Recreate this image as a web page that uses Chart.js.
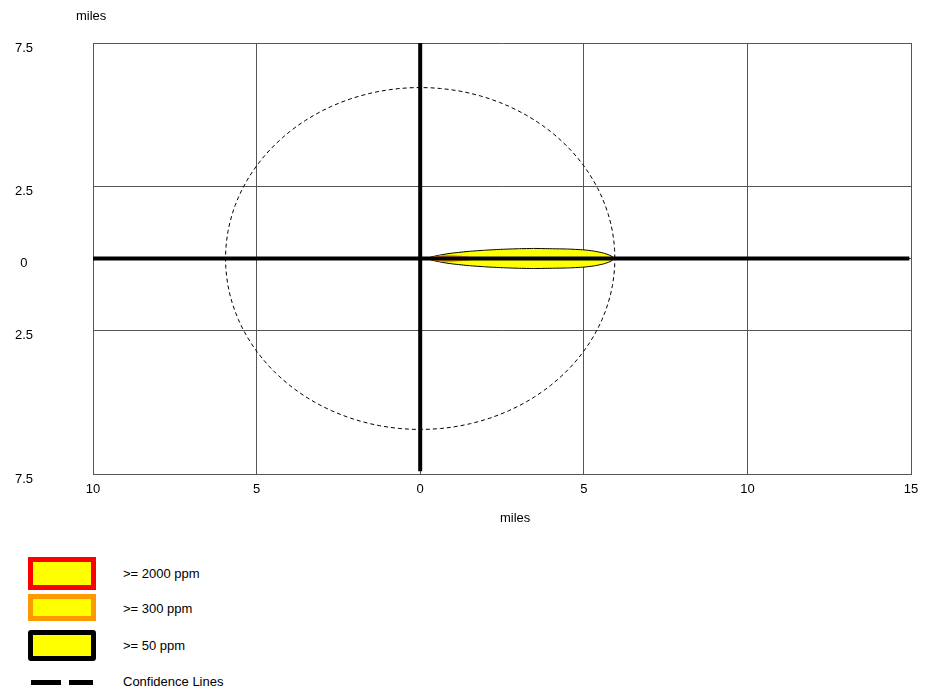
<!DOCTYPE html>
<html>
<head>
<meta charset="utf-8">
<script src="https://cdn.jsdelivr.net/npm/chart.js@4/dist/chart.umd.min.js"></script>
<style>
  html, body { margin: 0; padding: 0; background: #fff; }
  body { width: 925px; height: 693px; position: relative; font-family: "Liberation Sans", Arial, sans-serif; color: #000; overflow: hidden; }
  #c { position: absolute; left: 0; top: 0; }
  .lbl { position: absolute; font-size: 13px; white-space: nowrap; }
  .box { position: absolute; left: 28px; width: 58px; height: 23px; background: #ffff00; border: 5px solid; }
  .dash { position: absolute; top: 680px; height: 5px; background: #000; }
</style>
</head>
<body>
<canvas id="c" width="925" height="540"></canvas>
<div class="lbl" style="left:76px; top:8px;">miles</div>
<div class="lbl" style="left:500px; top:510px;">miles</div>

<div class="box" style="top:557px; border-color:#ff0000;"></div>
<div class="lbl" style="left:123px; top:566px;">&gt;= 2000 ppm</div>
<div class="box" style="top:594px; height:17px; border-color:#ff9900;"></div>
<div class="lbl" style="left:123px; top:601px;">&gt;= 300 ppm</div>
<div class="box" style="top:630px; height:21px; border-color:#000; border-radius:3px;"></div>
<div class="lbl" style="left:123px; top:638px;">&gt;= 50 ppm</div>
<div class="dash" style="left:31px; width:30px;"></div>
<div class="dash" style="left:69px; width:24px;"></div>
<div class="lbl" style="left:123px; top:674px;">Confidence Lines</div>

<script>
// ---- data (miles) ----
const xTicks = [-10, -5, 0, 5, 10, 15];
const yTicks = [-7.5, -2.5, 0, 2.5, 7.5];
const xTickLabels = ['10', '5', '0', '5', '10', '15'];
const yTickLabels = ['7.5', '2.5', '0', '2.5', '7.5'];

// 50 ppm plume (yellow): downwind distance and half-width
const plume50X  = [0.2, 0.4, 0.7, 1.0, 1.5, 2.0, 2.5, 3.0, 3.5, 4.0, 4.5, 5.0, 5.3, 5.6, 5.8, 5.95];
const plume50HW = [0, 0.07, 0.14, 0.19, 0.25, 0.29, 0.32, 0.34, 0.35, 0.34, 0.33, 0.30, 0.26, 0.19, 0.11, 0];
// 300 ppm plume (orange)
const plume300X  = [0.2, 0.4, 0.7, 1.0, 1.3, 1.6, 1.8];
const plume300HW = [0, 0.07, 0.12, 0.12, 0.09, 0.05, 0];
// 2000 ppm plume (red)
const plume2000X  = [0.2, 0.4, 0.6, 0.8];
const plume2000HW = [0, 0.035, 0.03, 0];

// confidence circle radius
const confidenceRadius = 5.95;
// thick reference axes
const hAxisX = [-10, 14.95];
const vAxisY = [7.5, -7.4];

// ---- build shapes ----
function plumePolygon(xs, hws) {
  const pts = [];
  for (let i = 0; i < xs.length; i++) pts.push({x: xs[i], y: hws[i]});
  for (let i = xs.length - 1; i >= 0; i--) pts.push({x: xs[i], y: -hws[i]});
  return pts;
}
const circlePts = [];
for (let a = 0; a <= 360; a += 3) {
  const r = a * Math.PI / 180;
  circlePts.push({x: confidenceRadius * Math.cos(r), y: confidenceRadius * Math.sin(r)});
}

const ctx = document.getElementById('c');
new Chart(ctx, {
  type: 'scatter',
  data: {
    datasets: [
      { data: hAxisX.map(x => ({x, y: 0})), showLine: true, borderColor: '#000', borderWidth: 4, pointRadius: 0, borderCapStyle: 'butt' },
      { data: vAxisY.map(y => ({x: 0, y})), showLine: true, borderColor: '#000', borderWidth: 4, pointRadius: 0, borderCapStyle: 'butt' },
      { data: circlePts, showLine: true, borderColor: '#000', borderWidth: 1, borderDash: [4, 3], pointRadius: 0, tension: 0 },
      { data: plumePolygon(plume2000X, plume2000HW), showLine: true, fill: 'shape', backgroundColor: '#ff3300', borderColor: '#ff3300', borderWidth: 0, pointRadius: 0, tension: 0 },
      { data: plumePolygon(plume300X, plume300HW), showLine: true, fill: 'shape', backgroundColor: '#ff9900', borderColor: '#ff9900', borderWidth: 0, pointRadius: 0, tension: 0.15 },
      { data: plumePolygon(plume50X, plume50HW), showLine: true, fill: 'shape', backgroundColor: '#ffff00', borderColor: '#000', borderWidth: 1, pointRadius: 0, tension: 0.15 }
    ]
  },
  options: {
    responsive: false,
    animation: false,
    events: [],
    layout: { padding: { top: 43, right: 14, left: 0, bottom: 0 } },
    plugins: { legend: { display: false }, tooltip: { enabled: false } },
    scales: {
      x: {
        type: 'linear', min: -10, max: 15,
        afterBuildTicks: s => { s.ticks = xTicks.map(v => ({value: v})); },
        afterFit: s => { s.height = 66; s.paddingLeft = 0; s.paddingRight = 0; },
        ticks: { callback: (v, i) => xTickLabels[i], color: '#000', font: { family: 'Liberation Sans', size: 13 }, padding: 8, maxRotation: 0 },
        grid: { color: '#555', lineWidth: 1, drawTicks: false },
        border: { color: '#555', width: 1 }
      },
      y: {
        type: 'linear', min: -7.5, max: 7.5,
        afterBuildTicks: s => { s.ticks = yTicks.map(v => ({value: v})); },
        afterFit: s => { s.width = 93; s.paddingTop = 0; s.paddingBottom = 0; },
        ticks: { callback: (v, i) => yTickLabels[yTickLabels.length - 1 - i], color: '#000', font: { family: 'Liberation Sans', size: 13 }, padding: 60, crossAlign: 'center', labelOffset: 5 },
        grid: { color: '#555', lineWidth: 1, drawTicks: false },
        border: { color: '#555', width: 1 }
      }
    }
  }
});
</script>
</body>
</html>
